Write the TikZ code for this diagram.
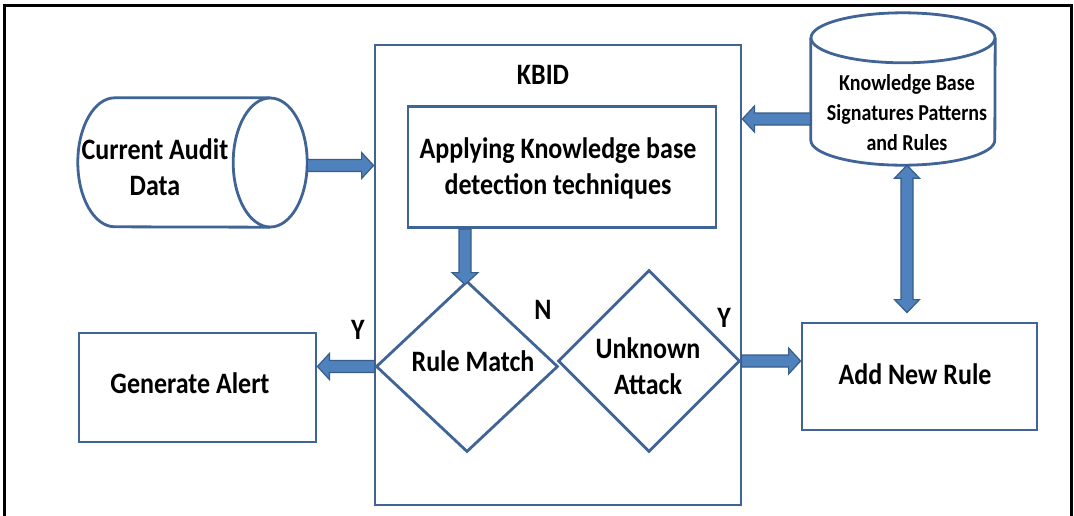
\documentclass[tikz,border=0pt]{standalone}
\usepackage{graphicx}
\usepackage{fontspec}
\setmainfont{Carlito}
\usetikzlibrary{calc,shapes.geometric}

\definecolor{shapeline}{RGB}{64,100,150}
\definecolor{arrowfill}{RGB}{79,129,189}
\definecolor{arrowline}{RGB}{56,93,138}

% slightly taller lettering
\newcommand\tallstretch[1]{\scalebox{1}[1.14]{#1}}

% thick block arrow from #1 to #2
\newcommand\blockarrow[2]{%
  \coordinate (baS) at (#1);
  \coordinate (baE) at (#2);
  \coordinate (baN) at ($(baE)!12pt!(baS)$);
  \filldraw[flowarrow] ($(baS)!6pt!90:(baE)$) -- ($(baN)!6pt!90:(baE)$)
    -- ($(baN)!13pt!90:(baE)$) -- (baE) -- ($(baN)!13pt!-90:(baE)$)
    -- ($(baN)!6pt!-90:(baE)$) -- ($(baS)!6pt!-90:(baE)$) -- cycle;}

% thick block arrow with heads at both ends
\newcommand\dblockarrow[2]{%
  \coordinate (baS) at (#1);
  \coordinate (baE) at (#2);
  \coordinate (baN) at ($(baE)!13pt!(baS)$);
  \coordinate (baM) at ($(baS)!13pt!(baE)$);
  \filldraw[flowarrow] (baS) -- ($(baM)!12.5pt!90:(baE)$) -- ($(baM)!6pt!90:(baE)$)
    -- ($(baN)!6pt!90:(baE)$) -- ($(baN)!12.5pt!90:(baE)$) -- (baE)
    -- ($(baN)!12.5pt!-90:(baE)$) -- ($(baN)!6pt!-90:(baE)$)
    -- ($(baM)!6pt!-90:(baE)$) -- ($(baM)!12.5pt!-90:(baE)$) -- cycle;}

\begin{document}
\begin{tikzpicture}[x=1pt,y=-1pt,
  box/.style={draw=shapeline, line width=2.8pt, rectangle, inner sep=0pt},
  decision/.style={draw=shapeline, line width=2.8pt, diamond, inner sep=0pt},
  cyl/.style={draw=shapeline, line width=2.8pt},
  txt/.style={font=\fontsize{26}{36}\selectfont\bfseries, align=center, inner sep=0pt},
  smalltxt/.style={font=\fontsize{20}{30}\selectfont\bfseries, align=center, inner sep=0pt},
  flowarrow/.style={fill=arrowfill, draw=arrowline, line width=1.2pt, line join=miter},
  frame/.style={draw=black, line width=3pt}]

\useasboundingbox (0,0) rectangle (1074,515);
\fill[white] (0,0) rectangle (1074,515);

% outer frame, open at the bottom
\draw[frame] (4,520) -- (4,5) -- (1071,5) -- (1071,520);

% KBID block
\node[box, minimum width=366pt, minimum height=460pt] (kbid) at (558,275) {};
\node[txt] (kbidtitle) at (543,75) {\tallstretch{KBID}};

\node[box, minimum width=308pt, minimum height=121pt] (apply) at (562,167) {};
\node[txt] (applytext) at (558,168)
  {\tallstretch{Applying Knowledge base}\\ \tallstretch{detection techniques}};

\node[decision, minimum width=182pt, minimum height=171pt] (rm) at (467,366.5) {};
\node[txt] (rmtext) at (473,361) {\tallstretch{Rule Match}};

\node[decision, minimum width=182pt, minimum height=182pt] (ua) at (649,361) {};
\node[txt] (uatext) at (648,366) {\tallstretch{Unknown}\\ \tallstretch{Attack}};

% current audit data (horizontal cylinder)
\node[inner sep=0pt, minimum width=229pt, minimum height=129pt] (cad) at (192.5,162.5) {};
\draw[cyl] ([xshift=-37pt]cad.east) ellipse [x radius=37, y radius=64.5];
\draw[cyl] ([xshift=-37pt]cad.north east) -- ([xshift=37pt]cad.north west)
  arc[start angle=270, end angle=90, x radius=37, y radius=64.5]
  -- ([xshift=-37pt]cad.south east);
\node[txt] (cadtext) at (155,167) {\tallstretch{Current Audit}\\ \tallstretch{Data}};

% knowledge base (vertical cylinder)
\node[inner sep=0pt, minimum width=184pt, minimum height=152pt] (kb) at (903,89) {};
\draw[cyl] ([yshift=-25pt]kb.north) ellipse [x radius=92, y radius=25];
\draw[cyl] ([yshift=-25pt]kb.north west) -- ([yshift=25pt]kb.south west)
  arc[start angle=180, end angle=0, x radius=92, y radius=25]
  -- ([yshift=-25pt]kb.north east);
\node[smalltxt] (kbtext) at (907,113)
  {\tallstretch{Knowledge Base}\\ \tallstretch{Signatures Patterns}\\ \tallstretch{and Rules}};

% outcome boxes
\node[box, minimum width=237pt, minimum height=109pt] (ga) at (197.5,387.5) {};
\node[txt] (gatext) at (190,383) {\tallstretch{Generate Alert}};
\node[box, minimum width=235pt, minimum height=107pt] (anr) at (919.5,376.5) {};
\node[txt] (anrtext) at (915,374) {\tallstretch{Add New Rule}};

% branch labels
\node[txt] (ylabel1) at (358,330) {\tallstretch{Y}};
\node[txt] (nlabel) at (543,310) {\tallstretch{N}};
\node[txt] (ylabel2) at (724,318) {\tallstretch{Y}};

% connectors
\coordinate (cadport) at ([yshift=-3pt]cad.east);
\coordinate (kbport) at ([yshift=-30pt]kb.west);
\coordinate (kbfoot) at ([xshift=4pt]kb.south);
\coordinate (anrtop) at ([yshift=9pt]anr.north);
\coordinate (rmtop) at ([xshift=-2pt,yshift=-5pt]rm.north);
\blockarrow{cadport}{kbid.west |- cadport}
\blockarrow{kbport}{kbid.east |- kbport}
\blockarrow{rmtop |- apply.south}{rmtop}
\blockarrow{rm.west}{ga.east |- rm.west}
\blockarrow{ua.east}{anr.west |- ua.east}
\dblockarrow{kbfoot}{anrtop -| kbfoot}
\end{tikzpicture}
\end{document}
